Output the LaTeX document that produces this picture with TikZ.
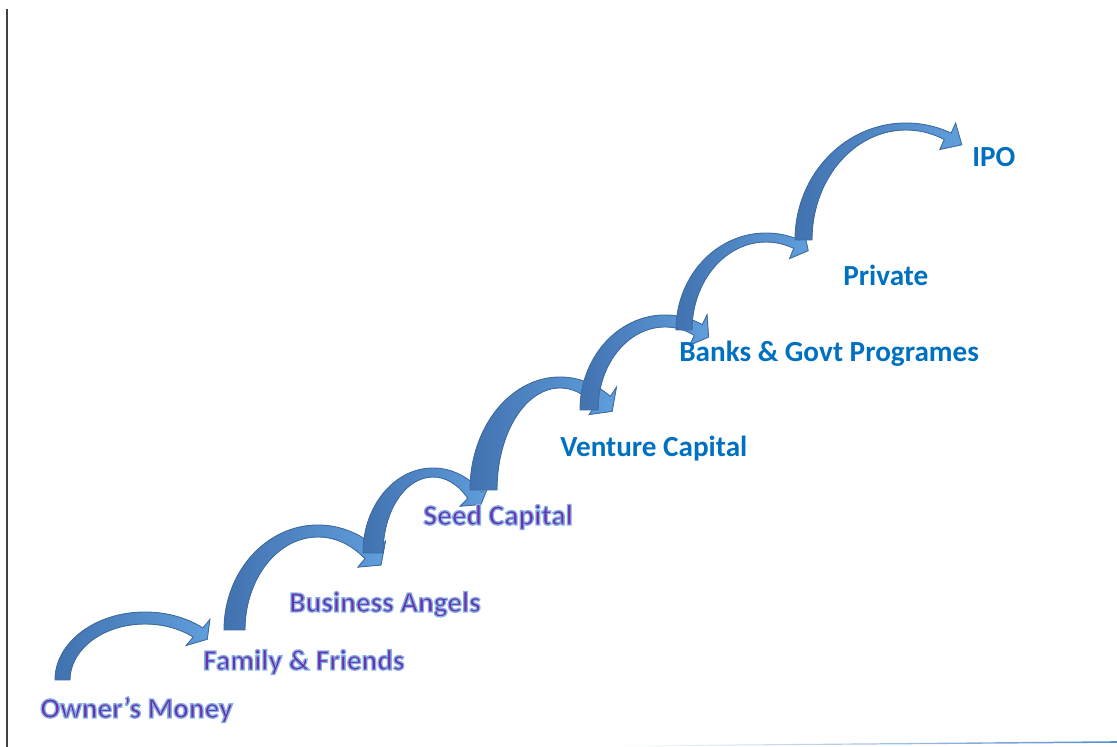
\documentclass[tikz,border=0pt]{standalone}
\usepackage{fontspec}
\setmainfont{Carlito}
\usetikzlibrary{calc}

\definecolor{arrowlight}{RGB}{96,158,220}
\definecolor{arrowdark}{RGB}{66,114,176}
\definecolor{arrowline}{RGB}{62,108,160}
\definecolor{stagepurple}{RGB}{106,48,172}
\definecolor{stageblue}{RGB}{0,112,192}
\definecolor{ruleblue}{RGB}{84,140,210}

% outlined lettering: fill, then a light blue stroke round each glyph
\newcommand{\haloed}[1]{%
  \special{pdf:literal direct 0.52 0.69 0.90 RG 0.75 w 2 Tr}#1\special{pdf:literal direct 0 Tr}}

\tikzset{
  stairstep/.style={draw=arrowline, line width=0.5pt, left color=arrowdark, right color=arrowlight},
  stage/.style={anchor=base west, inner sep=0pt, font=\fontsize{16.6}{19}\selectfont\bfseries},
  lowstage/.style={stage, text=stagepurple},
  highstage/.style={stage, text=stageblue},
}

% curved step arrow round centre #1: outer radii #2,#3, inner radii #4,#5, head at angle #6
\newcommand{\stairarrow}[6]{%
  \pgfmathsetmacro\sxo{#2+11}\pgfmathsetmacro\syo{#3+11}%
  \pgfmathsetmacro\sxi{#4-11}\pgfmathsetmacro\syi{#5-11}%
  \pgfmathsetmacro\sxm{(#2+#4)/2}\pgfmathsetmacro\sym{(#3+#5)/2}%
  \pgfmathsetmacro\stip{#6-9}%
  \filldraw[stairstep] ([shift={(180:#2 and #3)}]#1)
    arc[start angle=180, end angle=#6, x radius=#2, y radius=#3]
    -- ([shift={(#6:{\sxo} and {\syo})}]#1)
    -- ([shift={({\stip}:{\sxm} and {\sym})}]#1)
    -- ([shift={(#6:{\sxi} and {\syi})}]#1)
    -- ([shift={(#6:#4 and #5)}]#1)
    arc[start angle=#6, end angle=180, x radius=#4, y radius=#5]
    -- cycle;
}

\begin{document}
\begin{tikzpicture}[x=0.02cm, y=0.02cm]
  \useasboundingbox (0,0) rectangle (1117,747);

  % page edges
  \coordinate (edgetop) at (7,738);
  \coordinate (edgebot) at (7,0);
  \draw[black!75, line width=0.9pt] (edgetop) -- (edgebot);
  \shade[left color=white, right color=ruleblue] (610,0.6) -- (1117,4.2) -- (1117,5.8) -- (610,1.4) -- cycle;

  % centres of the step arrows
  \coordinate (step1) at (145,67);
  \coordinate (step2) at (318,117);
  \coordinate (step3) at (433,194);
  \coordinate (step4) at (560,257);
  \coordinate (step5) at (665,337);
  \coordinate (step6) at (766,417);
  \coordinate (step7) at (906,507);

  \stairarrow{step1}{90}{68}{75}{56}{50}
  \stairarrow{step2}{94}{105}{73}{93}{50}
  \stairarrow{step3}{70}{85}{50}{76}{46}
  \stairarrow{step4}{90}{113}{63}{102}{56}
  \stairarrow{step5}{85}{95}{67}{83}{64}
  \stairarrow{step6}{90}{97}{74}{88}{68}
  \stairarrow{step7}{111}{117}{94}{110}{66}

  % funding stages
  \node[lowstage] (owner) at (40,29) {\haloed{Owner’s Money}};
  \node[lowstage] (family) at (203,77) {\haloed{Family \& Friends}};
  \node[lowstage] (angels) at (289,135) {\haloed{Business Angels}};
  \node[lowstage] (seed) at (423,222) {\haloed{Seed Capital}};
  \node[highstage] (venture) at (560,290) {Venture Capital};
  \node[highstage] (banks) at (679,385) {Banks \& Govt Programes};
  \node[highstage] (private) at (843,461) {Private};
  \node[highstage] (ipo) at (972,580) {IPO};
\end{tikzpicture}
\end{document}
